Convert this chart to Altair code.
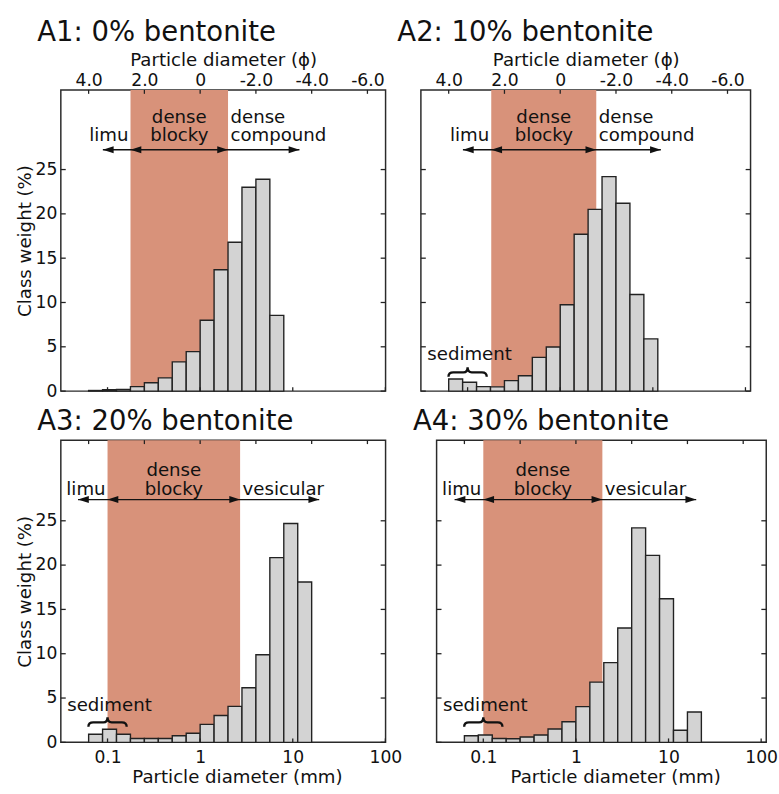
import altair as alt
import pandas as pd

FONT = "DejaVu Sans"
SHADE = "#d8927a"

# class boundaries in phi units (half-phi classes), coarse side listed last
phi_edges = [4.0, 3.5, 3.0, 2.5, 2.0, 1.5, 1.0, 0.5, 0.0, -0.5, -1.0, -1.5,
             -2.0, -2.5, -3.0, -3.5, -4.0, -4.5]

# class weight (%) per class, starting at phi 4.0
a1_weight = [0.07, 0.15, 0.18, 0.5, 0.95, 1.5, 3.3, 4.45, 8.0, 13.7, 16.8, 23.0, 23.9, 8.55]
a2_weight = [1.37, 1.0, 0.5, 0.48, 1.18, 1.73, 3.8, 4.98, 9.75, 17.7, 20.5, 24.2, 21.2, 10.9, 5.9]
a3_weight = [0.92, 1.48, 0.92, 0.44, 0.44, 0.44, 0.74, 1.03, 2.03, 3.03, 4.06, 6.16, 9.89,
             20.85, 24.7, 18.1]
a4_weight = [0.74, 0.83, 0.44, 0.4, 0.6, 0.83, 1.5, 2.33, 4.03, 6.8, 9.0, 12.9, 24.2, 21.1,
             16.2, 1.37, 3.43]

# dense blocky field (mm)
a1_shade = [0.177, 2.0]
a2_shade = [0.18, 2.45]
a3_shade = [0.1, 2.7]
a4_shade = [0.1, 1.93]

# outer arrow tips (mm)
a1_tips = [0.089, 11.8]
a2_tips = [0.089, 12.2]
a3_tips = [0.048, 19.3]
a4_tips = [0.049, 19.9]

titles = ["A1: 0% bentonite", "A2: 10% bentonite", "A3: 20% bentonite", "A4: 30% bentonite"]

y_ticks = [0, 5, 10, 15, 20, 25]
mm_ticks = [0.1, 1, 10, 100]
phi_ticks_mm = [0.0625, 0.25, 1, 4, 16, 64]

X_MIN = 0.03131
X_MAX = {331: 100.5, 336: 113.5}

LEFT_HEAD = "M 0 0 L 2 -0.65 L 2 0.65 Z"
RIGHT_HEAD = "M 0 0 L -2 -0.65 L -2 0.65 Z"
BRACE = ("M -1 0.25 Q -1 0.02 -0.75 0.02 L -0.22 0.02 Q 0 0.02 0 -0.25 "
         "Q 0 0.02 0.22 0.02 L 0.75 0.02 Q 1 0.02 1 0.25")

PHI_LABEL = ("datum.value == 1 ? '0' : (datum.value > 1 ? '-' : '') + "
             "format(abs(log(datum.value) / LN2), '.1f')")


def panel(title, weights, shade, tips, right_words, W, H, top_row, left_col,
          sediment, title_offset):
    ymax = H / 9.033
    xs = alt.Scale(type="log", domain=[X_MIN, X_MAX[W]], nice=False)
    ys = alt.Scale(domain=[0, ymax], nice=False, zero=False)
    if top_row:
        y_l1, y_l2, y_arr, y_sed, y_br = 30.3, 28.17, 27.23, 3.54, 2.16
    else:
        y_l1, y_l2, y_arr, y_sed, y_br = 30.07, 27.9, 27.39, 3.51, 2.3

    bars = pd.DataFrame({
        "lo": [2 ** (-phi_edges[i]) for i in range(len(weights))],
        "hi": [2 ** (-phi_edges[i + 1]) for i in range(len(weights))],
        "w": weights,
        "base": [0.0] * len(weights),
    })
    shade_df = pd.DataFrame({"lo": [shade[0]], "hi": [shade[1]]})

    xnone = dict(scale=xs, axis=None)
    if left_col:
        yaxis = alt.Axis(values=y_ticks, title="Class weight (%)", tickSize=0, domain=False,
                         labelPadding=4, titlePadding=1, labelFontSize=17.5,
                         titleFontSize=18.5, titleFontWeight="normal", grid=False,
                         labelColor="#111", titleColor="#111")
    else:
        yaxis = None

    def Y(field):
        return alt.Y(field, scale=ys, axis=yaxis, title="Class weight (%)")

    layers = []
    layers.append(alt.Chart(shade_df).mark_rect(color=SHADE).encode(
        x=alt.X("lo:Q", **xnone), x2="hi:Q", y=alt.value(0), y2=alt.value(H)))
    layers.append(alt.Chart(bars).mark_rect(fill="#d3d3d3", stroke="#222",
                                            strokeWidth=1.4).encode(
        x=alt.X("lo:Q", **xnone), x2="hi:Q", y=Y("w:Q"), y2="base:Q"))

    yt = pd.DataFrame({"v": y_ticks})
    for x0, x1 in ((0, 5), (W, W - 5)):
        layers.append(alt.Chart(yt).mark_rule(color="#222", strokeWidth=1.3).encode(
            y=Y("v:Q"), x=alt.value(x0), x2=alt.value(x1)))

    if not top_row:
        bax = alt.Axis(orient="bottom", values=mm_ticks, format="~g", tickSize=0,
                       domain=False, labelPadding=6.5, labelFontSize=17.5,
                       labelOverlap=False, labelFlush=False, labelBound=False,
                       title="Particle diameter (mm)", titleFontSize=18.5,
                       titleFontWeight="normal", titlePadding=1.5, titleX=W / 2 + 14,
                       grid=False, labelColor="#111", titleColor="#111")
    else:
        bax = None
    layers.append(alt.Chart(pd.DataFrame({"v": mm_ticks})).mark_rule(
        color="#222", strokeWidth=1.3).encode(
        x=alt.X("v:Q", scale=xs, axis=bax), y=alt.value(H), y2=alt.value(H - 4)))

    if top_row:
        tax = alt.Axis(orient="top", values=phi_ticks_mm, labelExpr=PHI_LABEL,
                       tickSize=0, domain=False, labelPadding=0, labelFontSize=17.5,
                       labelOverlap=False, labelFlush=False, labelBound=False,
                       title="Particle diameter (\u03d5)", titleFontSize=18.5,
                       titleFontWeight="normal", titlePadding=3, grid=False,
                       labelColor="#111", titleColor="#111")
    else:
        tax = None
    layers.append(alt.Chart(pd.DataFrame({"v": phi_ticks_mm})).mark_rule(
        color="#222", strokeWidth=1.3).encode(
        x=alt.X("v:Q", scale=xs, axis=tax), y=alt.value(0), y2=alt.value(4)))

    arr = pd.DataFrame({"a": [tips[0]], "b": [tips[1]], "y": [y_arr]})
    layers.append(alt.Chart(arr).mark_rule(color="#111", strokeWidth=1.4).encode(
        x=alt.X("a:Q", **xnone), x2="b:Q", y=Y("y:Q")))
    lh = pd.DataFrame({"x": [tips[0], shade[0]], "y": [y_arr, y_arr]})
    rh = pd.DataFrame({"x": [shade[1], tips[1]], "y": [y_arr, y_arr]})
    for df, shp in ((lh, LEFT_HEAD), (rh, RIGHT_HEAD)):
        layers.append(alt.Chart(df).mark_point(shape=shp, filled=True, size=121,
                                               color="#111", opacity=1).encode(
            x=alt.X("x:Q", **xnone), y=Y("y:Q")))

    mid = (shade[0] * shade[1]) ** 0.5
    left_df = pd.DataFrame({"x": [shade[0]], "y": [y_l2], "t": ["limu"]})
    mid_df = pd.DataFrame({"x": [mid, mid], "y": [y_l1, y_l2], "t": ["dense", "blocky"]})
    if len(right_words) == 2:
        right_df = pd.DataFrame({"x": [shade[1]] * 2, "y": [y_l1, y_l2], "t": right_words})
    else:
        right_df = pd.DataFrame({"x": [shade[1]], "y": [y_l2], "t": right_words})
    for df, al, dx in ((left_df, "right", -2), (mid_df, "center", 0), (right_df, "left", 2.5)):
        layers.append(alt.Chart(df).mark_text(align=al, baseline="alphabetic", dx=dx,
                                              font=FONT, fontSize=18.5, color="#111").encode(
            x=alt.X("x:Q", **xnone), y=Y("y:Q"), text="t:N"))

    if sediment:
        sed = pd.DataFrame({"x": [0.105], "y": [y_sed], "t": ["sediment"]})
        layers.append(alt.Chart(sed).mark_text(align="center", baseline="alphabetic",
                                               font=FONT, fontSize=18.5, color="#111").encode(
            x=alt.X("x:Q", **xnone), y=Y("y:Q"), text="t:N"))
        br = pd.DataFrame({"x": [0.1], "y": [y_br]})
        layers.append(alt.Chart(br).mark_point(shape=BRACE, filled=False, size=1521,
                                               color="#111", strokeWidth=2.4, opacity=1).encode(
            x=alt.X("x:Q", **xnone), y=Y("y:Q")))

    return alt.layer(*layers).resolve_axis(x="independent").properties(
        width=W, height=H,
        title=alt.TitleParams(title, anchor="start", frame="group", dx=-24, fontSize=28,
                              font=FONT, fontWeight="normal", baseline="alphabetic",
                              offset=title_offset, color="#111"))


p1 = panel(titles[0], a1_weight, a1_shade, a1_tips, ["dense", "compound"], 331, 307,
           True, True, False, -18)
p2 = panel(titles[1], a2_weight, a2_shade, a2_tips, ["dense", "compound"], 336, 307,
           True, False, True, -18)
p3 = panel(titles[2], a3_weight, a3_shade, a3_tips, ["vesicular"], 331, 308,
           False, True, True, -18)
p4 = panel(titles[3], a4_weight, a4_shade, a4_tips, ["vesicular"], 336, 308,
           False, False, True, -18)

chart = alt.vconcat(
    alt.hconcat(p1, p2, spacing=9),
    alt.hconcat(p3, p4, spacing=9),
    spacing=6,
).properties(
    padding={"left": 14, "top": 11, "right": 0, "bottom": 0},
    background="white",
).configure_view(stroke="#2a2a2a", strokeWidth=1.5).configure_axis(
    labelFont=FONT, titleFont=FONT, grid=False
).configure_title(font=FONT)

chart.save("out.html", embed_options={"renderer": "svg", "actions": False})
